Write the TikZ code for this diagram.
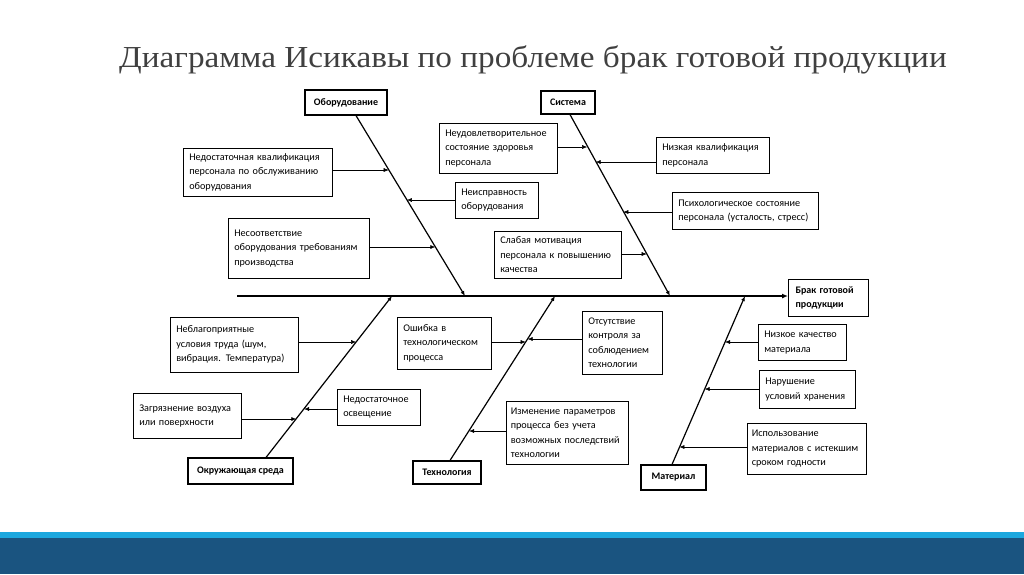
\documentclass[tikz,border=0pt]{standalone}
\usepackage{fontspec}
\setmainfont{Carlito}
\newfontfamily\titlefont[FakeStretch=1.09]{Liberation Serif}
\usetikzlibrary{arrows.meta,calc}
\definecolor{titlegray}{HTML}{404040}
\definecolor{barlight}{HTML}{1CA8DF}
\definecolor{bardark}{HTML}{1A5480}
\tikzset{
  cause/.style 2 args={draw, line width=0.6pt, anchor=north west, align=left,
    inner xsep=6pt, inner ysep=2pt, text width=#1, minimum height=#2,
    font=\fontsize{10.2}{14.5}\selectfont},
  tight/.style={inner xsep=4.5pt},
  cat/.style={draw, line width=1.1pt, anchor=center, inner sep=0pt,
    font=\fontsize{10}{11}\selectfont\bfseries},
  bone/.style={line width=1.2pt},
  spine/.style={line width=1.7pt, -{Latex[length=6pt,width=5pt]}},
  arr/.style={line width=0.5pt, -{Latex[length=5pt,width=4pt]}},
}
\begin{document}
\begin{tikzpicture}[x=1pt,y=-1pt]
\useasboundingbox (0,0) rectangle (1024,574);
% bottom bars
\fill[barlight] (0,532) rectangle (1024,538);
\fill[bardark] (0,538) rectangle (1024,574);
% title
\node[anchor=base west, inner sep=0pt, text=titlegray, font=\titlefont\fontsize{30.5}{36}\selectfont] (title) at (119,67) {Диаграмма Исикавы по проблеме брак готовой продукции};

% effect
\node[draw, line width=1.1pt, anchor=north west, minimum width=80pt, minimum height=37pt, text width=66pt, inner xsep=7pt, align=left, font=\fontsize{10}{14.5}\selectfont\bfseries] (effect) at (788,279) {Брак готовой\\продукции};
\coordinate (s0) at (237,296);
\draw[spine] (s0) -- (s0 -| effect.west);

% categories
\node[cat, minimum width=82pt, minimum height=25pt] (obor) at (346,102.5) {Оборудование};
\node[cat, minimum width=54pt, minimum height=23pt] (sist) at (568,102.5) {Система};
\node[cat, minimum width=105pt, minimum height=26pt] (okr) at (240.5,471) {Окружающая среда};
\node[cat, minimum width=68pt, minimum height=23pt] (tech) at (447,472.5) {Технология};
\node[cat, minimum width=65pt, minimum height=25pt] (mat) at (673.5,477.5) {Материал};

% bone end points on the spine
\coordinate (oE) at (465,296);
\coordinate (sE) at (670,296);
\coordinate (kE) at (392,296);
\coordinate (tE) at (555,296);
\coordinate (mE) at (745,296);
\draw[bone,-{Latex[length=5pt,width=4pt]}] ([xshift=10pt]obor.south) -- (oE);
\draw[bone,-{Latex[length=5pt,width=4pt]}] ([xshift=2pt]sist.south) -- (sE);
\draw[bone,-{Latex[length=5pt,width=4pt]}] ([xshift=25.5pt]okr.north) -- (kE);
\draw[bone,-{Latex[length=5pt,width=4pt]}] ([xshift=3pt]tech.north) -- (tE);
\draw[bone,-{Latex[length=5pt,width=4pt]}] ([xshift=-1.5pt]mat.north) -- (mE);

% causes: Оборудование
\node[cause={137pt}{48pt}] (c1) at (183,148) {Недостаточная квалификация\\персонала по обслуживанию\\оборудования};
\node[cause={71pt}{36pt}] (c2) at (455,182) {Неисправность\\оборудования};
\node[cause={129pt}{60pt}] (c3) at (228,218) {Несоответствие\\оборудования требованиям\\производства};
\coordinate (p1) at (388.7,170);
\coordinate (p2) at (406.9,200);
\coordinate (p3) at (435.3,247);
\draw[arr] (p1 -| c1.east) -- (p1);
\draw[arr] (p2 -| c2.west) -- (p2);
\draw[arr] (p3 -| c3.east) -- (p3);

% causes: Система
\node[cause={106pt}{50pt}] (c4) at (439,123) {Неудовлетворительное\\состояние здоровья\\персонала};
\node[cause={101pt}{36pt}] (c5) at (656,137) {Низкая квалификация\\персонала};
\node[cause={134pt}{37pt}] (c6) at (672,192) {Психологическое состояние\\персонала (усталость, стресс)};
\node[cause={115pt}{47pt}] (c7) at (494,231) {Слабая мотивация\\персонала к повышению\\качества};
\coordinate (p4) at (587.2,147);
\coordinate (p5) at (595.6,162);
\coordinate (p6) at (623.3,212);
\coordinate (p7) at (646.7,254);
\draw[arr] (p4 -| c4.east) -- (p4);
\draw[arr] (p5 -| c5.west) -- (p5);
\draw[arr] (p6 -| c6.west) -- (p6);
\draw[arr] (p7 -| c7.east) -- (p7);

% causes: Окружающая среда
\node[cause={116pt}{55pt}] (c8) at (170,317) {Неблагоприятные\\условия труда (шум,\\вибрация. Температура)};
\node[cause={96pt}{45pt}] (c9) at (133,393) {Загрязнение воздуха\\или поверхности};
\node[cause={71pt}{36pt}] (c10) at (337,389) {Недостаточное\\освещение};
\coordinate (p8) at (356.2,342);
\coordinate (p9) at (296.3,419);
\coordinate (p10) at (304.1,409);
\draw[arr] (p8 -| c8.east) -- (p8);
\draw[arr] (p9 -| c9.east) -- (p9);
\draw[arr] (p10 -| c10.west) -- (p10);

% causes: Технология
\node[cause={82pt}{52pt}] (c11) at (397,317) {Ошибка в\\технологическом\\процесса};
\node[cause={68pt}{63pt}] (c12) at (582,311) {Отсутствие\\контроля за\\соблюдением\\технологии};
\node[cause={113pt}{63pt}, tight] (c13) at (506,401) {Изменение параметров\\процесса без учета\\возможных последствий\\технологии};
\coordinate (p11) at (525.7,342);
\coordinate (p12) at (527.6,339);
\coordinate (p13) at (469.1,431);
\draw[arr] (p11 -| c11.east) -- (p11);
\draw[arr] (p12 -| c12.west) -- (p12);
\draw[arr] (p13 -| c13.west) -- (p13);

% causes: Материал
\node[cause={76pt}{36pt}] (c14) at (758,324) {Низкое качество\\материала};
\node[cause={84pt}{38pt}] (c15) at (759,370) {Нарушение\\условий хранения};
\node[cause={110pt}{51pt}, tight] (c16) at (747,423) {Использование\\материалов с истекшим\\сроком годности};
\coordinate (p14) at (725.0,342);
\coordinate (p15) at (704.6,389);
\coordinate (p16) at (679.4,447);
\draw[arr] (p14 -| c14.west) -- (p14);
\draw[arr] (p15 -| c15.west) -- (p15);
\draw[arr] (p16 -| c16.west) -- (p16);
\end{tikzpicture}
\end{document}
